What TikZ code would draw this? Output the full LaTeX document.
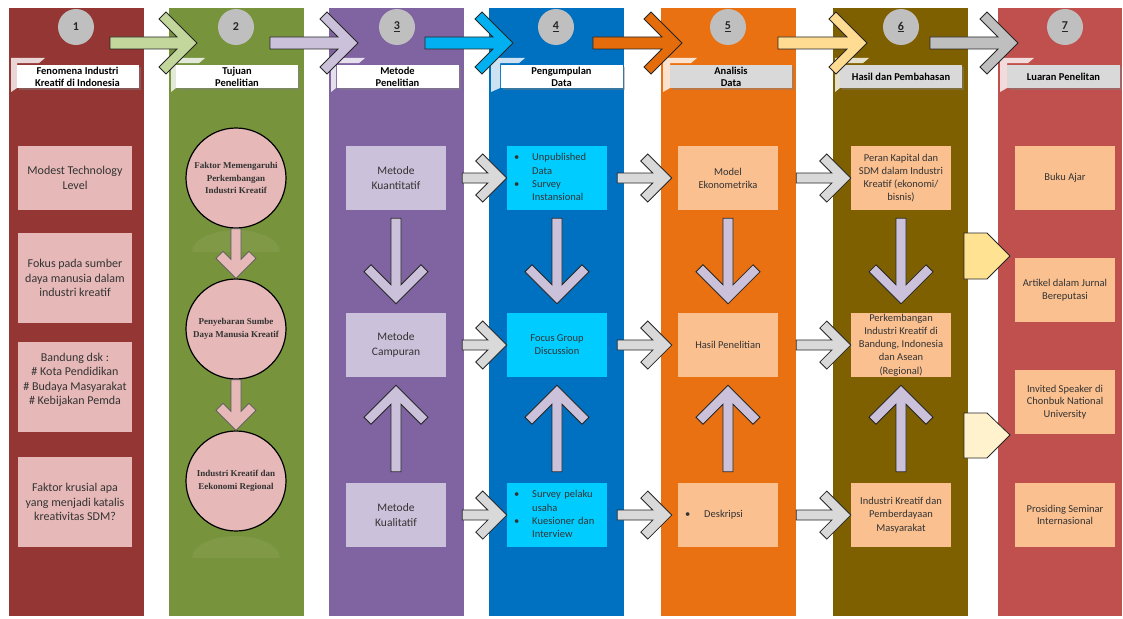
\documentclass[tikz,border=0pt]{standalone}
\usepackage{fontspec}
\setmainfont{Carlito}
\newfontfamily\circfont{Liberation Serif}
\usetikzlibrary{calc, shadows}

\definecolor{laneA}{HTML}{943634}
\definecolor{laneB}{HTML}{77933C}
\definecolor{laneC}{HTML}{8064A2}
\definecolor{laneD}{HTML}{0070C0}
\definecolor{laneE}{HTML}{EA7111}
\definecolor{laneF}{HTML}{7F6000}
\definecolor{laneG}{HTML}{C0504D}
\definecolor{numgray}{HTML}{BFBFBF}
\definecolor{arrA}{HTML}{C3D69B}
\definecolor{arrB}{HTML}{CCC1DA}
\definecolor{arrC}{HTML}{00B0F0}
\definecolor{arrD}{HTML}{E46C0A}
\definecolor{arrE}{HTML}{FFDC92}
\definecolor{arrF}{HTML}{BFBFBF}
\definecolor{pinkfill}{HTML}{E6B9B8}
\definecolor{lavfill}{HTML}{CCC1DA}
\definecolor{cyanfill}{HTML}{00CCFF}
\definecolor{peachfill}{HTML}{FAC090}
\definecolor{grayarr}{HTML}{D9D9D9}
\definecolor{penA}{HTML}{FFE393}
\definecolor{penB}{HTML}{FFF2CC}
\definecolor{txtdark}{HTML}{333333}

\tikzset{
  numdot/.style={circle, fill=numgray, minimum size=36pt, inner sep=0pt, text=black!85, font=\bfseries\fontsize{12}{14}\selectfont},
  headbox/.style={fill=white, minimum width=122pt, minimum height=23pt, inner sep=0pt, align=center, text=black, font=\bfseries\fontsize{10.5}{12}\selectfont, drop shadow={opacity=.45, shadow xshift=2pt, shadow yshift=-1.5pt}},
  fenbox/.style={fill=pinkfill, minimum width=114pt, inner sep=0pt, align=center, text=txtdark, font=\fontsize{12}{14.5}\selectfont},
  tujcirc/.style={circle, draw=black, line width=1.2pt, fill=pinkfill, minimum size=100pt, inner sep=0pt, align=center, text=txtdark, font=\circfont\bfseries\fontsize{9}{12.5}\selectfont},
  stepbox/.style={minimum width=100pt, minimum height=64pt, inner sep=0pt, align=center, text=txtdark, font=\fontsize{10.5}{13.2}\selectfont},
  listbox/.style={stepbox, align=left, text width=86pt, inner xsep=7pt},
  blkarr/.style={draw=black!85, line width=0.8pt},
}

% block arrows: style, shaft start, tip, head size (, shaft half width)
\newcommand{\rblk}[5]{%
  \draw[#1] let \p1=#2, \p2=#3 in
    (\x1,\y2+#5pt) -- (\x2-14pt-#5pt,\y2+#5pt) -- (\x2-#4pt-7pt,\y2+#4pt-7pt)
    -- (\x2-#4pt,\y2+#4pt) -- (\x2,\y2) -- (\x2-#4pt,\y2-#4pt)
    -- (\x2-#4pt-7pt,\y2-#4pt+7pt) -- (\x2-14pt-#5pt,\y2-#5pt) -- (\x1,\y2-#5pt) -- cycle;}
\newcommand{\dblk}[4]{%
  \draw[#1] let \p1=#2, \p2=#3 in
    (\x2+5pt,\y1) -- (\x2+5pt,\y2+19pt) -- (\x2+#4pt-7pt,\y2+#4pt+7pt)
    -- (\x2+#4pt,\y2+#4pt) -- (\x2,\y2) -- (\x2-#4pt,\y2+#4pt)
    -- (\x2-#4pt+7pt,\y2+#4pt+7pt) -- (\x2-5pt,\y2+19pt) -- (\x2-5pt,\y1) -- cycle;}
\newcommand{\ublk}[4]{%
  \draw[#1] let \p1=#2, \p2=#3 in
    (\x2+5pt,\y1) -- (\x2+5pt,\y2-19pt) -- (\x2+#4pt-7pt,\y2-#4pt-7pt)
    -- (\x2+#4pt,\y2-#4pt) -- (\x2,\y2) -- (\x2-#4pt,\y2-#4pt)
    -- (\x2-#4pt+7pt,\y2-#4pt-7pt) -- (\x2-5pt,\y2-19pt) -- (\x2-5pt,\y1) -- cycle;}

\begin{document}
\begin{tikzpicture}[x=1pt, y=-1pt]
\useasboundingbox (0,0) rectangle (1123,618);

% lanes
\foreach \l/\r/\c in {9/144/laneA,169/304/laneB,329/464/laneC,489/624/laneD,661/796/laneE,833/968/laneF,998/1122/laneG}
  \fill[\c] (\l,8) rectangle (\r,616);
\foreach \l/\b in {9/17,169/176,329/336,489/500,661/670,833/840,998/1007}
  \fill[white, opacity=0.8] (\l+2,58) -- (\l+36,58) -- (\l+30,63) -- (\b,63) -- (\b,88) -- (\l+2,92) -- cycle;

% headers
\node[headbox] (h1) at (77.5,76.5) {Fenomena Industri\\Kreatif di Indonesia};
\node[headbox] (h2) at (237,76.5) {Tujuan\\Penelitian};
\node[headbox] (h3) at (397.5,76.5) {Metode\\Penelitian};
\node[headbox] (h4) at (561.5,76.5) {Pengumpulan\\Data};
\node[headbox, fill=grayarr] (h5) at (731,76.5) {Analisis\\Data};
\node[headbox, fill=grayarr] (h6) at (901,76.5) {Hasil dan Pembahasan};
\node[headbox, fill=grayarr, minimum width=113pt] (h7) at (1063.5,76.5) {Luaran Penelitan};

\node[numdot] (n1) at (76,27) {1};
\node[numdot] (n2) at (236,27) {2};
\node[numdot] (n3) at (397,27) {\underline{3}};
\node[numdot] (n4) at (556,27) {\underline{4}};
\node[numdot] (n5) at (728,27) {\underline{5}};
\node[numdot] (n6) at (901,27) {\underline{6}};
\node[numdot] (n7) at (1065,27) {\underline{7}};

\foreach \s/\t/\c [count=\i] in {110/197/arrA,270/358/arrB,425/513/arrC,593/682/arrD,778/867/arrE,930/1018/arrF} {
  \coordinate (hs\i) at (\s,43);
  \coordinate (ht\i) at (\t,43);
  \rblk{blkarr, fill=\c}{(hs\i)}{(ht\i)}{31}{6}
}

% 1 fenomena
\node[fenbox, minimum height=64pt] (fen1) at (75,178) {Modest Technology\\Level};
\node[fenbox, minimum height=90pt] (fen2) at (75,278) {Fokus pada sumber\\daya manusia dalam\\industri kreatif};
\node[fenbox, minimum height=90pt] (fen3) at (75,387) {Bandung dsk :\\\# Kota Pendidikan\\\# Budaya Masyarakat\\\# Kebijakan Pemda\\[2pt]};
\node[fenbox, minimum height=90pt] (fen4) at (75,502) {Faktor krusial apa\\yang menjadi katalis\\kreativitas SDM?};

% 2 tujuan
\foreach \y in {252,558}
  \fill[white, opacity=0.06] (192,\y) arc[start angle=180, end angle=0, x radius=44pt, y radius=22pt] -- cycle;
\node[tujcirc] (tuj1) at (236,178) {Faktor Memengaruhi\\Perkembangan\\Industri Kreatif};
\node[tujcirc] (tuj2) at (236,329) {Penyebaran Sumbe\\Daya Manusia Kreatif};
\node[tujcirc] (tuj3) at (236,481) {Industri Kreatif dan\\Eekonomi Regional};
\dblk{draw=black!65, line width=0.8pt, fill=pinkfill}{(tuj1.south)}{(tuj2.north)}{20}
\dblk{draw=black!65, line width=0.8pt, fill=pinkfill}{(tuj2.south)}{(tuj3.north)}{20}

% 3 metode
\node[stepbox, fill=lavfill, font=\fontsize{11.5}{14.3}\selectfont] (met1) at (396,178) {Metode\\Kuantitatif};
\node[stepbox, fill=lavfill, font=\fontsize{11.5}{14.3}\selectfont] (met2) at (396,345) {Metode\\Campuran};
\node[stepbox, fill=lavfill, font=\fontsize{11.5}{14.3}\selectfont] (met3) at (396,515) {Metode\\Kualitatif};

% 4 pengumpulan
\node[listbox, fill=cyanfill] (kum1) at (557,178) {\begin{tabular}{@{}l@{\hspace{13pt}}l@{}}\textbullet & Unpublished\\ & Data\\ \textbullet & Survey\\ & Instansional\end{tabular}};
\node[stepbox, fill=cyanfill] (kum2) at (557,345) {Focus Group\\Discussion};
\node[listbox, fill=cyanfill] (kum3) at (557,515) {\begin{tabular}{@{}l@{\hspace{13pt}}l@{}}\textbullet & Survey pelaku\\ & usaha\\ \textbullet & Kuesioner dan\\ & Interview\end{tabular}};

% 5 analisis
\node[stepbox, fill=peachfill] (ana1) at (728,178) {Model\\Ekonometrika};
\node[stepbox, fill=peachfill] (ana2) at (728,345) {Hasil Penelitian};
\node[listbox, fill=peachfill] (ana3) at (728,515) {\textbullet\hspace{14pt}Deskripsi};

% 6 hasil
\node[stepbox, fill=peachfill] (has1) at (901,178) {Peran Kapital dan\\SDM dalam Industri\\Kreatif (ekonomi/\\bisnis)};
\node[stepbox, fill=peachfill] (has2) at (901,345) {Perkembangan\\Industri Kreatif di\\Bandung, Indonesia\\dan Asean\\(Regional)};
\node[stepbox, fill=peachfill] (has3) at (901,515) {Industri Kreatif dan\\Pemberdayaan\\Masyarakat};

% 7 luaran
\node[stepbox, fill=peachfill, font=\fontsize{10.5}{12.7}\selectfont] (lua1) at (1065,178) {Buku Ajar};
\node[stepbox, fill=peachfill, font=\fontsize{10.5}{12.7}\selectfont] (lua2) at (1065,290) {Artikel dalam Jurnal\\Bereputasi};
\node[stepbox, fill=peachfill, font=\fontsize{10.5}{12.7}\selectfont] (lua3) at (1065,402) {Invited Speaker di\\Chonbuk National\\University};
\node[stepbox, fill=peachfill, font=\fontsize{10.5}{12.7}\selectfont] (lua4) at (1065,515) {Prosiding Seminar\\Internasional};

% vertical arrows
\foreach \c in {met,kum,ana,has} {
  \dblk{blkarr, fill=lavfill}{($(\c1.south)+(0,8)$)}{($(\c2.north)+(0,-9)$)}{32}
  \ublk{blkarr, fill=lavfill}{($(\c3.north)+(0,-11)$)}{($(\c2.south)+(0,8)$)}{32}
}

% horizontal arrows
\foreach \i in {1,2,3} {
  \rblk{blkarr, fill=grayarr}{($(met\i.east)+(16,0)$)}{(kum\i.west)}{24}{5}
  \rblk{blkarr, fill=grayarr}{($(kum\i.east)+(10,0)$)}{($(ana\i.west)+(-6,0)$)}{24}{5}
  \rblk{blkarr, fill=grayarr}{($(ana\i.east)+(18,0)$)}{(has\i.west)}{24}{5}
}

% to luaran
\draw[blkarr, fill=penA] (964,233) -- (987,233) -- (1010,256) -- (987,279) -- (964,279) -- cycle;
\draw[blkarr, fill=penB] (964,413) -- (987,413) -- (1010,435) -- (987,458) -- (964,458) -- cycle;
\end{tikzpicture}
\end{document}
